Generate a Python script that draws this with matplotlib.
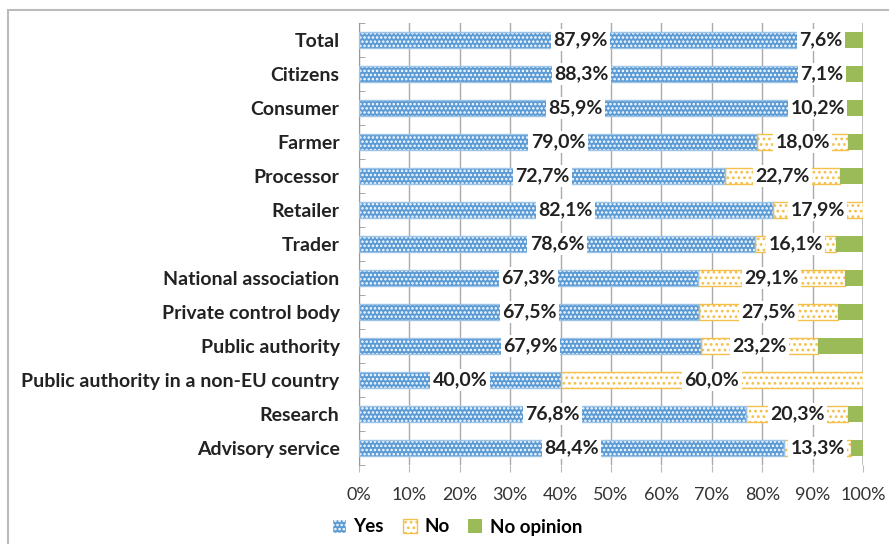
import numpy as np
import matplotlib
matplotlib.use("Agg")
import matplotlib.pyplot as plt
import matplotlib.patches as patches

categories = ["Total", "Citizens", "Consumer", "Farmer", "Processor", "Retailer", "Trader",
              "National association", "Private control body", "Public authority",
              "Public authority in a non-EU country", "Research", "Advisory service"]
yes = [87.9, 88.3, 85.9, 79.0, 72.7, 82.1, 78.6, 67.3, 67.5, 67.9, 40.0, 76.8, 84.4]
no = [7.6, 7.1, 10.2, 18.0, 22.7, 17.9, 16.1, 29.1, 27.5, 23.2, 60.0, 20.3, 13.3]
no_opinion = [4.5, 4.6, 3.9, 3.0, 4.6, 0.0, 5.3, 3.6, 5.0, 8.9, 0.0, 2.9, 2.3]
xticks = [0, 10, 20, 30, 40, 50, 60, 70, 80, 90, 100]

BLUE = "#5B9BD5"
BLUE_EDGE = "#9DC3E6"
YELLOW = "#F5C04A"
GREEN = "#9BBB59"

plt.rcParams['font.family'] = ['Lato', 'DejaVu Sans']
plt.rcParams['hatch.linewidth'] = 1.2

fig = plt.figure(figsize=(8.89, 5.44), dpi=100)
ax = fig.add_axes([359 / 889, 1 - 465 / 544, 504 / 889, 442 / 544])

y = np.arange(len(categories))
h = 0.47
yes = np.array(yes)
no = np.array(no)
no_opinion = np.array(no_opinion)

# Yes: blue with white dots, light blue outline
ax.barh(y, yes, height=h, color=BLUE, edgecolor="white", hatch="....", linewidth=0, zorder=2)
ax.barh(y, yes, height=h, fill=False, edgecolor=BLUE_EDGE, linewidth=1, zorder=3)
# No: white with yellow dots
ax.barh(y, no, left=yes, height=h, facecolor="white", edgecolor=YELLOW, hatch="...", linewidth=1, zorder=2)
# No opinion: solid green
ax.barh(y, no_opinion, left=yes + no, height=h, color=GREEN, linewidth=0, zorder=2)


def add_label(x, yy, v):
    ax.text(x, yy, f"{v:.1f}%".replace(".", ","), ha="center", va="center",
            fontsize=14, fontweight="bold", color="#222222", zorder=5,
            bbox=dict(boxstyle="square,pad=0.12", facecolor="white", edgecolor="none"))


for i in range(len(categories)):
    add_label(yes[i] / 2, y[i], yes[i])
    if no[i] > 0:
        add_label(yes[i] + no[i] / 2, y[i], no[i])

ax.set_xlim(0, 100)
ax.set_ylim(len(categories) - 0.5, -0.5)
ax.set_xticks(xticks)
ax.set_xticklabels([f"{t}%" for t in xticks], fontsize=13, color="#333333")
ax.set_yticks(y)
ax.set_yticklabels(categories, fontsize=14, fontweight="bold", color="#222222")
ax.set_yticks(np.arange(-0.5, len(categories), 1), minor=True)
ax.tick_params(axis="y", which="major", length=0, pad=14)
ax.tick_params(axis="y", which="minor", length=4, direction="in", color="#999999")
ax.tick_params(axis="x", length=5, color="#bbbbbb", pad=11)
ax.grid(axis="x", color="#aaaaaa", linewidth=1, zorder=0)
ax.set_axisbelow(True)
for s in ["top", "right", "bottom"]:
    ax.spines[s].set_visible(False)
ax.spines["left"].set_color("#999999")
ax.axvline(100, color="#bbbbbb", linewidth=2, zorder=1)

handles = [patches.Patch(facecolor=BLUE, edgecolor="white", hatch="...."),
           patches.Patch(facecolor="white", edgecolor=YELLOW, hatch="..."),
           patches.Patch(facecolor=GREEN)]
fig.legend(handles, ["Yes", "No", "No opinion"], loc="center", bbox_to_anchor=(457 / 889, 1 - 527 / 544),
           ncol=3, frameon=False, handlelength=0.75, handleheight=0.75, handletextpad=0.4,
           columnspacing=1.0, prop=dict(size=13.5, weight="bold"))

fig.patches.append(patches.Rectangle((8 / 889, -0.1), 1.2, 1 - 10 / 544 + 0.1, transform=fig.transFigure,
                                     fill=False, edgecolor="#bbbbbb", linewidth=1.5))

fig.savefig("out.png", dpi=100)
